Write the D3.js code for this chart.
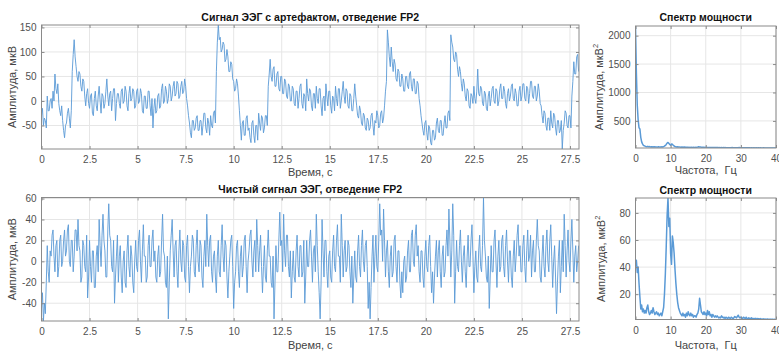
<!DOCTYPE html>
<html>
<head>
<meta charset="utf-8">
<script src="https://cdn.jsdelivr.net/npm/d3@7"></script>
<style>
    body { margin: 0; background: #fff; }
    svg { font-family: "Liberation Sans", Arial, Helvetica, sans-serif; }
    .tick text { fill: #505050; font-size: 10px; }
    .tick line { stroke: #8a8a8a; }
</style>
</head>
<body>
<svg id="chart" width="779" height="352"></svg>
<script>
// Sampling steps of the series below
var timeStep = 0.05;  // s
var freqStep = 0.25;  // Hz

// EEG with eye artifacts, lead FP2 (mkV), one row per second, 20 values per row
var artifactSignal = [
    -30, -15, -50, -35, -40, -55, 10, -20, -20, 0, 5, -15, 20, 0, 55, 25, 15, 35, -5, -20,
    -30, -10, -40, -60, -75, -50, -45, -25, -15, -35, -55, -20, 60, 95, 125, 90, 70, 50, 40, 60,
    55, 30, 20, 45, 40, 10, -10, 15, 25, -5, -15, 10, 15, -25, -30, 5, 20, -10, -20, 10,
    30, 0, -25, 15, 10, -15, -5, 20, 45, 10, -10, 15, 20, -20, 5, 25, 25, -40, -5, 15,
    15, -5, -15, 20, 25, -5, 0, 30, 20, -10, -20, 15, 30, 0, 5, 25, 20, -15, -10, 20,
    25, -5, 0, 25, 15, -20, -25, 10, 10, -15, -15, 20, 20, -10, -30, 5, -55, -15, 5, -25,
    -20, 10, 15, -15, -10, 25, 35, -5, 0, 30, 20, -5, 5, 35, 30, 0, 10, 30, 40, 10,
    15, 40, 35, 5, 10, 30, 40, 15, 20, 45, 30, 5, -10, -30, -45, -65, -75, -40, -40, -60,
    -55, -35, -30, -60, -60, -40, -40, -70, -50, -25, -25, -55, -65, -35, -45, -70, -30, -50, -55, -25,
    -20, -45, 60, 120, 155, 125, 130, 100, 105, 120, 115, 80, 85, 105, 90, 60, 60, 80, 75, 45,
    40, 20, 25, 45, 35, 10, -20, -50, -80, -45, -40, -70, -70, -35, -30, -60, -55, -75, -85, -45,
    -40, -70, -85, -50, -50, -80, -25, -45, -60, -30, -35, -65, -55, -30, -30, -50, 30, 55, 85, 50,
    40, 65, 70, 30, 30, 55, 60, 25, 20, 50, 50, 15, 15, 45, 40, 10, 5, 35, 30, 0,
    0, 30, 25, -5, -10, 20, 20, -15, 5, 30, 35, -5, -15, 15, 10, -20, 45, 15, 0, 25,
    20, -10, -20, 15, 15, -15, 30, 5, -5, 25, 25, -10, -30, 5, 10, -20, 35, 10, -10, 20,
    20, -10, -25, 10, 5, -20, 30, 5, -10, 25, 25, -15, 0, 20, 40, 10, -5, 25, 20, -10,
    -15, 15, 10, -20, -20, 5, 35, 10, -10, -30, -35, -10, -20, -45, -50, -25, -30, -55, -60, -35,
    -40, -60, -55, -30, -25, -50, -70, -40, -45, -20, -30, -55, -50, -25, -20, -45, -35, -10, 20, 40,
    145, 120, 90, 70, 110, 80, 60, 85, 75, 45, 40, 65, 60, 30, 30, 55, 45, 20, 20, 50,
    50, 30, 25, 55, 60, 30, 20, 45, 45, 15, 15, 40, 35, 5, -10, -30, -45, -60, -70, -45,
    -40, -65, -80, -50, -55, -85, -90, -60, -60, -80, -75, -45, -35, -60, -65, -40, -40, -70, -70, -45,
    -30, -55, -55, -25, -20, -40, 135, 120, 110, 85, 80, 100, 95, 65, 50, 70, 60, 35, 20, 45,
    35, 10, 0, 25, 20, -10, -15, 15, 10, -5, 30, 5, -5, 20, 65, 15, 10, 30, 25, -5,
    -10, 20, 15, -15, -20, 10, 20, -10, 5, 25, 30, 0, -5, 25, 20, -10, 0, 25, 35, 5,
    5, 30, 20, -5, -15, 15, 25, 0, 10, 30, 35, 5, 0, 25, 15, -10, -10, 20, 30, 0,
    10, 35, 35, 5, 0, 30, 25, -5, 15, 40, 40, 10, 5, 30, 30, 0, 10, 35, 20, -5,
    -10, -30, -45, -20, -25, -50, -60, -35, -35, -60, -20, -45, -55, -25, -30, -55, -70, -40, -40, -65,
    -60, -40, -98, -60, -45, -20, -25, -50, -55, -30, -30, -55, 10, 40, 80, 55, 55, 90, 95, 60
];

// Clean EEG, lead FP2 (mkV), one row per second, 20 values per row
var cleanSignal = [
    -45, -30, -57, -40, -50, -20, 15, -10, -20, 10, 5, 25, 30, 5, -10, 15, 20, -15, -5, 20,
    25, -5, 0, 20, 30, 5, 10, 30, 35, 0, -5, 20, 20, -10, 5, 30, 30, 10, 40, 15,
    10, -20, -15, 20, 15, -5, -10, 25, -35, -15, 20, -5, -20, 10, 10, -25, -25, 5, 15, -10,
    40, 15, -5, 25, 45, 20, 10, -15, -15, 30, 55, 25, 20, -5, -10, 20, -40, -15, 5, 25,
    -20, 5, 15, -15, -30, 0, 10, -20, -25, 10, 25, -5, -15, 15, 5, -20, -30, 0, 20, -5,
    -10, 20, 30, 0, -20, 10, 35, 5, 5, -20, -15, 15, 25, -5, -5, 20, 30, 0, 10, -15,
    -20, 5, 15, -15, -10, 20, 45, 10, 5, -20, -25, 5, -55, -20, 10, 25, 40, 10, -15, 15,
    20, -10, -25, 10, 30, 0, -10, 20, 15, -15, -20, 15, 25, -5, -30, -5, 5, 25, 20, -10,
    -15, 15, 30, 0, -10, 20, 15, -15, -25, 5, 20, -5, 45, 15, -5, 20, 25, -10, -20, 5,
    10, -15, -30, 5, 20, -10, -15, 15, 35, 5, -10, 20, 15, -15, -35, -10, 5, 20, 25, -5,
    -45, -20, -10, 15, 20, -10, -25, 5, 15, -15, -5, 20, 25, -5, -30, 0, 10, 25, 30, 0,
    -15, 10, 20, -10, 40, 15, -10, 10, 25, -5, -30, -5, 15, -15, -20, 10, 30, 5, 5, -20,
    -25, 5, -55, -20, 15, -10, -10, 20, 47, 15, 20, -10, 45, 10, -5, 25, 25, -5, -15, 10,
    -35, -10, 10, -15, -20, 10, 25, -5, -15, 15, 15, -15, -10, 20, -40, -15, 20, -5, -5, 20,
    30, 5, -20, 10, 15, -10, 45, 15, -10, -30, -55, -20, 40, 10, -15, 20, 20, -10, -25, 5,
    10, -15, -20, 10, 25, -5, -10, 20, 35, 5, 5, -20, 45, 15, -15, 10, 20, -10, -5, 20,
    15, -10, -25, 5, -40, -15, 10, -15, -20, 10, 25, -5, -15, 15, 30, 0, -10, 15, 20, -5,
    -45, -20, -55, -25, 5, 25, -20, 5, 25, -5, -10, 20, 55, 25, 30, 0, 50, 20, -15, 10,
    20, -10, -25, 5, 15, -15, -10, 20, 25, -5, -20, 10, 10, -20, -35, -10, -30, 0, 5, -20,
    -15, 10, 20, -10, -10, 25, 30, 0, -5, 25, 35, 5, 15, -10, -20, 10, 10, -15, -25, 5,
    20, -5, -10, 15, 25, -5, -30, -10, -40, -15, 5, 20, -15, 10, 20, -10, -25, 5, 15, -15,
    -10, 15, 30, 5, 50, 20, -15, 10, 55, 25, -40, -10, 20, -5, -10, 15, 30, 0, -20, 5,
    15, -10, -25, 5, 25, -5, -5, 20, 35, 5, -30, -5, 10, -15, -20, 10, 25, -5, -10, 15,
    61, 20, 5, -15, -20, 5, -45, -15, 15, -10, -10, 20, 30, 0, -25, 5, 20, -10, -5, 20,
    25, -5, -15, 15, 30, 0, -20, 10, 10, -15, -25, 5, 20, -10, 5, 25, 35, 5, 15, -10,
    -10, 15, 25, -5, -20, 10, 30, 0, 5, 25, -15, 10, 20, -10, -10, 20, 40, 15, 10, -15,
    -20, 5, 25, -5, -15, 15, 30, 0, -10, 20, 35, 5, -25, 0, 15, -15, -50, -20, 5, 20,
    -30, -5, 20, -10, 45, 15, -15, 10, 30, 0, -10, 20, 40, 10, -20, 5, 15, -10, 0, 15
];

// Power spectrum of the signal with artifacts (mkV^2), one value per 0.25 Hz
var artifactSpectrum = [
    2170, 1350, 780, 520, 380, 360, 210, 130, 95, 70, 62, 55,
    50, 46, 52, 44, 48, 42, 45, 40, 44, 41, 46, 39,
    42, 38, 44, 40, 43, 39, 45, 41, 48, 55, 68, 85,
    110, 120, 105, 85, 72, 92, 88, 70, 58, 50, 46, 42,
    44, 40, 42, 38, 41, 37, 40, 36, 39, 35, 38, 36,
    37, 34, 36, 33, 35, 33, 36, 34, 36, 34, 38, 40,
    45, 42, 39, 36, 38, 35, 37, 34, 35, 33, 34, 32,
    34, 32, 33, 31, 32, 31, 33, 30, 31, 30, 32, 29,
    31, 29, 30, 29, 30, 28, 30, 29, 29, 28, 29, 27,
    29, 28, 30, 28, 28, 27, 29, 28, 28, 27, 30, 27,
    29, 27, 28, 26, 27, 26, 28, 26, 27, 26, 27, 25,
    26, 25, 27, 25, 26, 25, 26, 25, 26, 25, 26, 24,
    25, 24, 26, 24, 25, 24, 25, 24, 25, 23, 24, 23,
    24, 23, 24, 23, 23
];

// Power spectrum of the clean signal (mkV^2), one value per 0.25 Hz
var cleanSpectrum = [
    42, 45, 36, 40, 28, 18, 9, 12, 7, 9, 6, 8,
    6, 10, 12, 7, 5, 6, 8, 6, 10, 7, 5, 6,
    7, 5, 6, 4, 5, 6, 4, 7, 10, 20, 35, 55,
    78, 91, 70, 76, 50, 42, 63, 58, 50, 38, 28, 20,
    14, 10, 8, 6, 5, 4, 6, 4, 5, 3, 6, 4,
    7, 5, 4, 6, 4, 5, 3, 4, 4, 3, 5, 6,
    9, 17, 12, 7, 6, 5, 7, 5, 6, 4, 8, 5,
    7, 4, 5, 3, 5, 4, 3, 4, 3, 4, 3, 2.5,
    3, 2.5, 4, 3, 2.5, 3, 2, 3, 2.5, 2, 3, 2.5,
    2, 3, 2.5, 2, 2.5, 3.5, 3, 2.5, 3.5, 4.5, 3, 2.5,
    3, 2.5, 2, 3, 2.5, 2, 3, 2, 2, 2.5, 2, 1.8,
    2.5, 2, 1.8, 2, 1.8, 2.2, 1.6, 2, 1.8, 1.6, 2, 1.5,
    1.7, 1.5, 1.8, 1.5, 1.6, 1.4, 1.7, 1.5, 1.5, 1.4, 1.6, 1.4,
    1.5, 1.3, 1.4, 1.3, 1.3
];

// Tick values
var timeTicks = [0, 2.5, 5, 7.5, 10, 12.5, 15, 17.5, 20, 22.5, 25, 27.5];
var freqTicks = [0, 10, 20, 30, 40];
var artifactTicks = [-50, 0, 50, 100, 150];
var cleanTicks = [-40, -20, 0, 20, 40, 60];
var artifactSpecTicks = [500, 1000, 1500, 2000];
var cleanSpecTicks = [20, 40, 60, 80];

var timeMax = 27.97;
var freqMax = 40;
var lineColour = "#5a9ad6";

var svg = d3.select("#chart");
var panelCount = 0;

function tickText(d) {
    return String(d);
}

function drawPanel(opt) {
    panelCount++;
    var x = d3.scaleLinear().domain(opt.xDomain).range([opt.left, opt.right]);
    var y = d3.scaleLinear().domain(d3.extent(opt.values)).range([opt.bottom, opt.top]);
    var g = svg.append("g");

    // Clip the curve to the axes box
    var clipId = "clip" + panelCount;
    svg.append("clipPath").attr("id", clipId)
        .append("rect")
        .attr("x", opt.left).attr("y", opt.top)
        .attr("width", opt.right - opt.left)
        .attr("height", opt.bottom - opt.top);

    // Grid
    g.append("g").selectAll("line").data(opt.xTicks).enter().append("line")
        .attr("x1", function (d) { return x(d); })
        .attr("x2", function (d) { return x(d); })
        .attr("y1", opt.top).attr("y2", opt.bottom)
        .attr("stroke", "#e6e6e6");
    g.append("g").selectAll("line").data(opt.yTicks).enter().append("line")
        .attr("x1", opt.left).attr("x2", opt.right)
        .attr("y1", function (d) { return y(d); })
        .attr("y2", function (d) { return y(d); })
        .attr("stroke", "#e6e6e6");

    // Curve
    var line = d3.line()
        .x(function (d, i) { return x(i * opt.step); })
        .y(function (d) { return y(d); });
    g.append("path")
        .datum(opt.values)
        .attr("clip-path", "url(#" + clipId + ")")
        .attr("d", line)
        .attr("fill", "none")
        .attr("stroke", lineColour)
        .attr("stroke-width", opt.width)
        .attr("stroke-linejoin", "round");

    // Axes, ticks pointing inwards on all four sides
    var ax = g.append("g").attr("transform", "translate(0," + opt.bottom + ")")
        .call(d3.axisBottom(x).tickValues(opt.xTicks).tickSizeInner(-3).tickSizeOuter(0)
            .tickPadding(7).tickFormat(tickText));
    var ay = g.append("g").attr("transform", "translate(" + opt.left + ",0)")
        .call(d3.axisLeft(y).tickValues(opt.yTicks).tickSizeInner(-3).tickSizeOuter(0)
            .tickPadding(5).tickFormat(tickText));
    var at = g.append("g").attr("transform", "translate(0," + opt.top + ")")
        .call(d3.axisTop(x).tickValues(opt.xTicks).tickSizeInner(-3).tickSizeOuter(0).tickFormat(""));
    var ar = g.append("g").attr("transform", "translate(" + opt.right + ",0)")
        .call(d3.axisRight(y).tickValues(opt.yTicks).tickSizeInner(-3).tickSizeOuter(0).tickFormat(""));
    [ax, ay, at, ar].forEach(function (a) {
        a.select(".domain").remove();
        a.selectAll("text").attr("font-family", null).attr("font-size", null);
    });

    // Box
    g.append("rect")
        .attr("x", opt.left).attr("y", opt.top)
        .attr("width", opt.right - opt.left)
        .attr("height", opt.bottom - opt.top)
        .attr("fill", "none")
        .attr("stroke", "#8a8a8a");

    // Title
    g.append("text")
        .attr("x", (opt.left + opt.right) / 2)
        .attr("y", opt.titleY)
        .attr("text-anchor", "middle")
        .attr("font-weight", "bold")
        .attr("font-size", "10.5px")
        .attr("fill", "#111")
        .text(opt.title);

    // X label
    g.append("text")
        .attr("x", (opt.left + opt.right) / 2)
        .attr("y", opt.xLabelY)
        .attr("text-anchor", "middle")
        .attr("font-size", "11px")
        .attr("fill", "#444")
        .style("white-space", "pre")
        .text(opt.xLabel);

    // Y label
    var yl = g.append("text")
        .attr("transform", "translate(" + opt.yLabelX + "," + ((opt.top + opt.bottom) / 2) + ") rotate(-90)")
        .attr("text-anchor", "middle")
        .attr("font-size", "11px")
        .attr("fill", "#444");
    yl.append("tspan").text(opt.yLabel);
    if (opt.squared) {
        yl.append("tspan").attr("dy", -5).attr("font-size", "7.5px").text("2");
    }
}

// Top left: signal with artifact
drawPanel({
    left: 41.5, right: 579, top: 25, bottom: 149,
    xDomain: [0, timeMax], step: timeStep, values: artifactSignal,
    xTicks: timeTicks, yTicks: artifactTicks, width: 0.9,
    title: "Сигнал ЭЭГ с артефактом, отведение FP2", titleY: 21,
    xLabel: "Время, с", xLabelY: 176,
    yLabel: "Амплитуда, мкВ", yLabelX: 16
});

// Top right: its power spectrum
drawPanel({
    left: 635.5, right: 776, top: 26, bottom: 148,
    xDomain: [0, freqMax], step: freqStep, values: artifactSpectrum,
    xTicks: freqTicks, yTicks: artifactSpecTicks, width: 1.5,
    title: "Спектр мощности", titleY: 21,
    xLabel: "Частота,  Гц", xLabelY: 174,
    yLabel: "Амплитуда, мкВ", yLabelX: 603, squared: true
});

// Bottom left: clean signal
drawPanel({
    left: 41.5, right: 579, top: 197.5, bottom: 321,
    xDomain: [0, timeMax], step: timeStep, values: cleanSignal,
    xTicks: timeTicks, yTicks: cleanTicks, width: 0.9,
    title: "Чистый сигнал ЭЭГ, отведение FP2", titleY: 193,
    xLabel: "Время, с", xLabelY: 349,
    yLabel: "Амплитуда, мкВ", yLabelX: 16
});

// Bottom right: its power spectrum
drawPanel({
    left: 635.5, right: 776, top: 198, bottom: 319.5,
    xDomain: [0, freqMax], step: freqStep, values: cleanSpectrum,
    xTicks: freqTicks, yTicks: cleanSpecTicks, width: 1.5,
    title: "Спектр мощности", titleY: 194,
    xLabel: "Частота,  Гц", xLabelY: 349,
    yLabel: "Амплитуда, мкВ", yLabelX: 605, squared: true
});
</script>
</body>
</html>
